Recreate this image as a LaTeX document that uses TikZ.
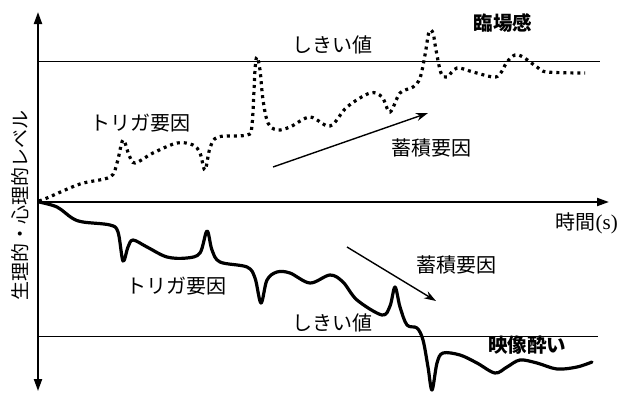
\documentclass[tikz,border=0pt]{standalone}
\usepackage{fontspec}
\newfontfamily\jp{Noto Sans CJK JP}
\usetikzlibrary{arrows.meta}
\begin{document}
\begin{tikzpicture}[x=1pt,y=-1pt,
  lbl/.style={font=\jp\fontsize{20}{22}\selectfont, inner sep=0pt},
  blbl/.style={font=\jp\bfseries\fontsize{19.5}{22}\selectfont, inner sep=0pt},
  ylbl/.style={font=\jp\fontsize{19}{21}\selectfont, inner sep=0pt, rotate=90},
  axis/.style={line width=2pt, -{Triangle[length=12pt,width=8pt]}},
  thr/.style={line width=1pt},
  sens/.style={line width=3.2pt, dash pattern=on 3pt off 4pt},
  sick/.style={line width=3.2pt, line join=round, line cap=round},
  trend/.style={line width=1.4pt, -{Stealth[length=12pt,width=8pt]}}]
\useasboundingbox (0,0) rectangle (621,392);
% axes
\coordinate (o) at (38,202);
\coordinate (ytop) at (38,12);
\coordinate (ybot) at (38,391);
\coordinate (xend) at (609,202);
\draw[axis] (o) -- (ytop);
\draw[axis] (o) -- (ybot);
\draw[axis] (o) -- (xend);
% thresholds
\coordinate (t1a) at (38,61);
\coordinate (t1b) at (600,61);
\coordinate (t2a) at (38,336);
\coordinate (t2b) at (598,336);
\draw[thr] (t1a) -- (t1b);
\draw[thr] (t2a) -- (t2b);
% labels
\node[lbl] (th1) at (332,45) {しきい値};
\node[lbl] (th2) at (332,323) {しきい値};
\node[blbl] (rin) at (503,23) {臨場感};
\node[blbl] (eizo) at (527,345) {映像酔い};
\node[lbl] (trig1) at (140,123) {トリガ要因};
\node[lbl] (trig2) at (176,286) {トリガ要因};
\node[lbl] (acc1) at (431,148) {蓄積要因};
\node[lbl] (acc2) at (456,265) {蓄積要因};
\node[lbl, anchor=east] (time) at (618,223) {時間{\fontspec{Liberation Serif}\fontsize{21}{22}\selectfont (s)}};
\node[ylbl] (ylab) at (20,205) {生理的・心理的レベル};
% trend arrows
\coordinate (a1s) at (273,167);
\coordinate (a1e) at (428,113);
\coordinate (a2s) at (347,247);
\coordinate (a2e) at (436,301);
\draw[trend] (a1s) -- (a1e);
\draw[trend] (a2s) -- (a2e);
% presence curve (dotted)
\draw[sens] plot[smooth, tension=0.55] coordinates {
 (39,201) (47,198) (80,184) (110,177) (117,163) (123,140) (129,155) (135,163)
 (153,153) (177,143) (193,145) (200,153) (205,170) (210,148) (218,137)
 (247,135) (252,125) (255,70) (257,57) (260,70) (263,100) (268,123)
 (277,130) (290,127) (310,117) (330,126) (347,107) (370,93) (382,97)
 (390,112) (400,93) (413,87) (420,78) (425,55) (429,32) (433,33) (436,50)
 (441,73) (447,77) (457,68) (473,72) (493,77) (500,74) (507,62) (515,55)
 (523,57) (537,67) (547,72) (585,73)};
% sickness curve (solid)
\draw[sick] plot[smooth, tension=0.55] coordinates {
 (39,202) (57,207) (72,218) (83,222) (110,225) (118,232) (123,261) (128,247)
 (133,240) (147,247) (167,257) (187,258) (200,253) (207,231) (212,250)
 (220,262) (247,267) (255,278) (261,303) (267,280) (277,272) (290,273)
 (310,283) (330,275) (343,282) (357,300) (382,315) (390,306) (395,287)
 (400,307) (407,325) (417,328) (423,340) (428,367) (432,390) (437,363)
 (443,353) (460,355) (477,363) (495,373) (507,367) (520,360) (537,363)
 (557,369) (577,367) (592,362)};
\end{tikzpicture}
\end{document}
